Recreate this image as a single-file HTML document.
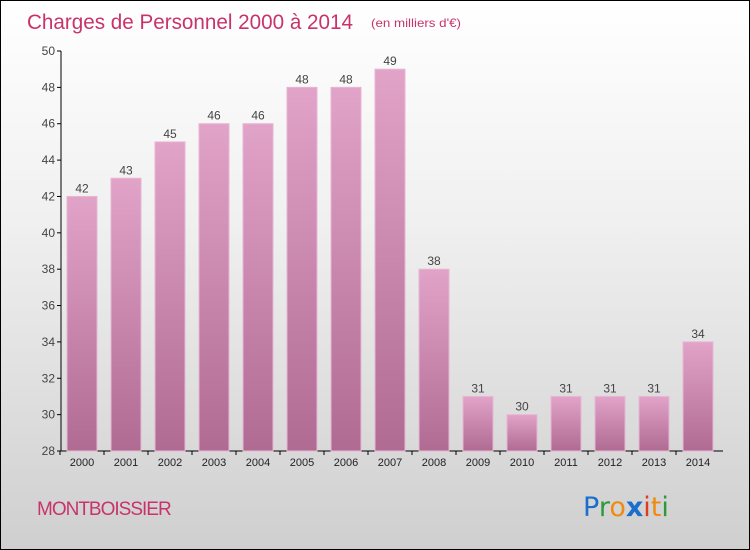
<!DOCTYPE html>
<html><head><meta charset="utf-8"><style>
body{margin:0}
#c{width:748px;height:548px;border:1px solid #000;background:linear-gradient(#ffffff 0%,#f0f0f0 40%,#cfcfcf 100%);position:relative;overflow:hidden;font-family:"Liberation Sans",sans-serif}
</style></head><body>
<div id="c">
<svg width="748" height="548" xmlns="http://www.w3.org/2000/svg" id="svg">
<defs><linearGradient id="bg" x1="0" y1="0" x2="0" y2="1"><stop offset="0" stop-color="#e2a3c8"/><stop offset="1" stop-color="#b06b92"/></linearGradient></defs>
<text x="26" y="28" font-size="21" fill="#c8336b" textLength="326" lengthAdjust="spacingAndGlyphs">Charges de Personnel 2000 à 2014</text>
<text x="370" y="26" font-size="12" fill="#c8336b" textLength="90" lengthAdjust="spacingAndGlyphs">(en milliers d'€)</text>
<text x="36" y="514" font-size="19" fill="#c8336b" letter-spacing="-1">MONTBOISSIER</text>
<g font-size="27" font-family="'DejaVu Sans',sans-serif">
<text x="582" y="515"><tspan fill="#1a6fcc">P</tspan><tspan fill="#2a9a3a">r</tspan><tspan fill="#f08a10">o</tspan><tspan fill="#1a6fcc" font-weight="bold">x</tspan><tspan fill="#e03a20">i</tspan><tspan fill="#f08a10">t</tspan><tspan fill="#2a9a3a">i</tspan></text>
</g>
<g id="axes"></g><g id="bars"></g>
</svg>
</div>
<script>
const years=["2000","2001","2002","2003","2004","2005","2006","2007","2008","2009","2010","2011","2012","2013","2014"];
const values=[42,43,45,46,46,48,48,49,38,31,30,31,31,31,34];
const yTicks=[28,30,32,34,36,38,40,42,44,46,48,50];
const ns="http://www.w3.org/2000/svg";
const y=v=>50+(50-v)*400/22;
const x=i=>81+i*44;
function mk(t,a,p){const e=document.createElementNS(ns,t);for(const k in a)e.setAttribute(k,a[k]);p.appendChild(e);return e;}
const ax=document.getElementById('axes'),bs=document.getElementById('bars');
const yl=mk('line',{x1:60,y1:y(50),x2:60,y2:y(28),stroke:'#000'},ax);


const xl=mk('line',{x1:60,y1:y(28),x2:722,y2:y(28),stroke:'#000'},ax);


yTicks.forEach(v=>{
 mk('line',{x1:56,x2:60,y1:y(v),y2:y(v),stroke:'#000'},ax);
 const t=mk('text',{x:54,y:y(v)+4,'text-anchor':'end','font-size':12,fill:'#444'},ax);t.textContent=v;
 
 
});
years.forEach((yr,i)=>{
 const v=values[i];
 const r=mk('rect',{x:x(i)-15,y:y(v),width:30,height:y(28)-y(v),fill:'url(#bg)',stroke:'#e8b6d2','stroke-width':1},bs);
 
 
 const l=mk('text',{x:x(i),y:y(v)-4,'text-anchor':'middle','font-size':12,fill:'#444'},bs);l.textContent=v;
 
 
 mk('line',{x1:x(i)-22,x2:x(i)-22,y1:y(28),y2:y(28)+4,stroke:'#000'},ax);
 const t=mk('text',{x:x(i),y:y(28)+15,'text-anchor':'middle','font-size':11,fill:'#222'},ax);t.textContent=yr;
 
 
});
</script>
</body></html>
